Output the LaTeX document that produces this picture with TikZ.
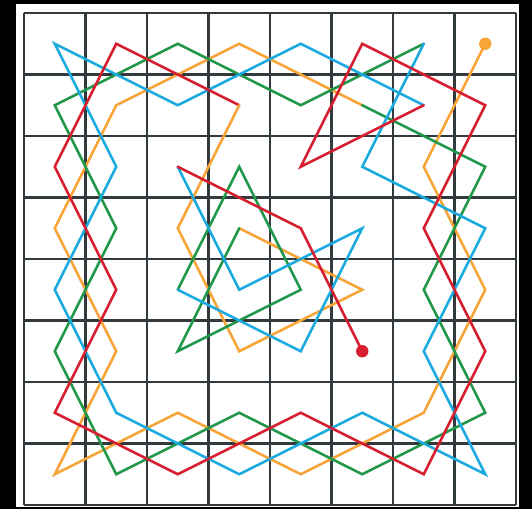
\documentclass[tikz,border=0pt]{standalone}
\usepackage{tikz}
\definecolor{tourorange}{RGB}{247,164,56}
\definecolor{tourgreen}{RGB}{33,151,74}
\definecolor{tourblue}{RGB}{27,170,224}
\definecolor{tourred}{RGB}{214,30,46}
\definecolor{gridgray}{RGB}{50,58,62}

\begin{document}
\begin{tikzpicture}[x=1.5cm,y=-1.5cm,
  gridline/.style={line width=1.5pt,draw=gridgray},
  tour/.style={line width=1.8pt,line cap=round,line join=miter},
  enddot/.style={circle,inner sep=0pt,minimum size=8.6pt}]
% frame: black border, white board
\fill[black] (-0.390,-0.211) rectangle (8.260,8.065);
\useasboundingbox (-0.390,-0.211) rectangle (8.260,8.065);
\fill[white] (-0.130,-0.146) rectangle (8.049,8.033);
% 8x8 board
\foreach \k in {0,...,8} {\draw[gridline] (\k,0) -- (\k,8); \draw[gridline] (0,\k) -- (8,\k);}
% square centres q<col><row>, row 0 on top
\foreach \i in {0,...,7} {\foreach \j in {0,...,7} {\coordinate (q\i\j) at (\i+0.5,\j+0.5);}}
% outer ring of the tour
\draw[tour,tourorange] (q70) -- (q62) -- (q74) -- (q66) -- (q47) -- (q26) -- (q07) -- (q15) -- (q03) -- (q11) -- (q30) -- (q51);
\draw[tour,tourgreen] (q51) -- (q72) -- (q64) -- (q76) -- (q57) -- (q36) -- (q17) -- (q05) -- (q13) -- (q01) -- (q20) -- (q41) -- (q60);
\draw[tour,tourblue] (q60) -- (q52) -- (q73) -- (q65) -- (q77) -- (q56) -- (q37) -- (q16) -- (q04) -- (q12) -- (q00) -- (q21) -- (q40) -- (q61);
\draw[tour,tourred] (q61) -- (q42) -- (q50) -- (q71) -- (q63) -- (q75) -- (q67) -- (q46) -- (q27) -- (q06) -- (q14) -- (q02) -- (q10) -- (q31);
% inner part
\draw[tour,tourorange] (q31) -- (q23) -- (q35) -- (q54) -- (q33);
\draw[tour,tourgreen] (q33) -- (q25) -- (q44) -- (q32) -- (q24);
\draw[tour,tourblue] (q24) -- (q45) -- (q53) -- (q34) -- (q22);
\draw[tour,tourred] (q22) -- (q43) -- (q55);
% start and end
\node[enddot,fill=tourorange] (start) at (q70) {};
\node[enddot,fill=tourred] (finish) at (q55) {};
\end{tikzpicture}
\end{document}
